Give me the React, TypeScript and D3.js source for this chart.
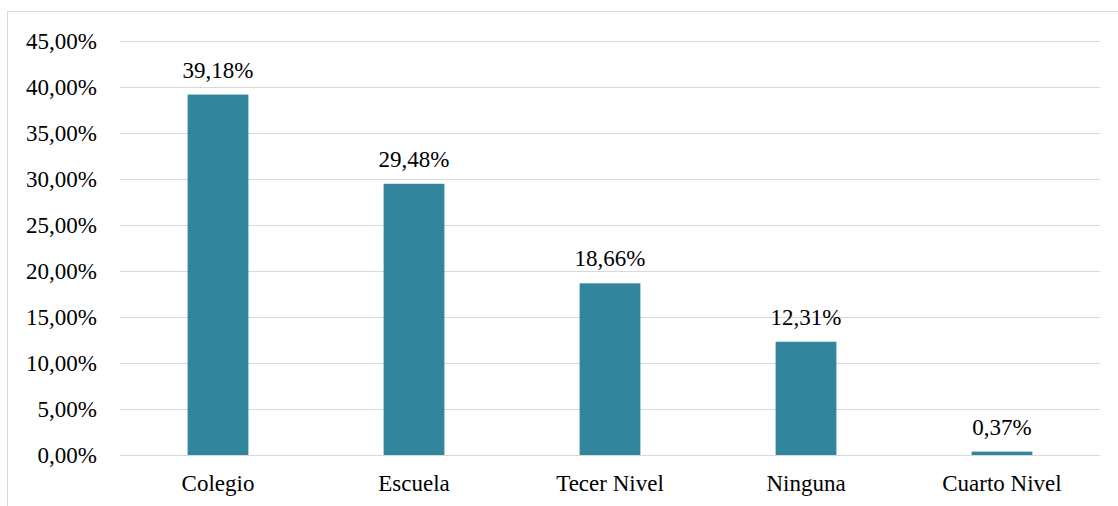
import { useEffect, useRef } from "react";
import * as d3 from "d3";

const categories = ["Colegio", "Escuela", "Tecer Nivel", "Ninguna", "Cuarto Nivel"];
const values = [39.18, 29.48, 18.66, 12.31, 0.37];
const yTicks = [0, 5, 10, 15, 20, 25, 30, 35, 40, 45];

const W = 1118, H = 506;
const m = { l: 120, r: 18, t: 41, b: 51 };
const FONT = "'Liberation Serif', 'Times New Roman', serif";

const fmt = (v: number) => v.toFixed(2).replace(".", ",") + "%";

export default function App() {
  const ref = useRef<SVGSVGElement | null>(null);

  useEffect(() => {
    const svg = d3.select(ref.current);
    svg.selectAll("*").remove();

    const x = d3.scaleBand<string>()
      .domain(categories)
      .range([m.l, W - m.r])
      .paddingInner(0.69)
      .paddingOuter(0.345);

    const y = d3.scaleLinear().domain([0, 45]).range([H - m.b, m.t]);

    svg.append("rect")
      .attr("x", 7.5).attr("y", 11.5)
      .attr("width", W + 20).attr("height", H + 20)
      .attr("fill", "white")
      .attr("stroke", "#d9d9d9")
      .attr("stroke-width", 1);

    const grid = svg.append("g");
    grid.selectAll("line")
      .data(yTicks)
      .enter()
      .append("line")
      .attr("x1", m.l).attr("x2", W - m.r)
      .attr("y1", d => Math.round(y(d)) + 0.5)
      .attr("y2", d => Math.round(y(d)) + 0.5)
      .attr("stroke", "#d9d9d9")
      .attr("stroke-width", 1);

    svg.append("g").selectAll("text")
      .data(yTicks)
      .enter()
      .append("text")
      .attr("x", 97)
      .attr("y", d => y(d))
      .attr("dy", "0.34em")
      .attr("text-anchor", "end")
      .attr("font-family", FONT)
      .attr("font-size", 23)
      .attr("fill", "#000")
      .text(d => fmt(d));

    svg.append("g").selectAll("rect")
      .data(values)
      .enter()
      .append("rect")
      .attr("x", (_, i) => x(categories[i])!)
      .attr("width", x.bandwidth())
      .attr("y", d => y(d))
      .attr("height", d => y(0) - y(d))
      .attr("fill", "#31859c");

    svg.append("g").selectAll("text")
      .data(values)
      .enter()
      .append("text")
      .attr("x", (_, i) => x(categories[i])! + x.bandwidth() / 2)
      .attr("y", d => y(d) - 17)
      .attr("text-anchor", "middle")
      .attr("font-family", FONT)
      .attr("font-size", 23)
      .attr("fill", "#000")
      .text(d => fmt(d));

    svg.append("g").selectAll("text")
      .data(categories)
      .enter()
      .append("text")
      .attr("x", d => x(d)! + x.bandwidth() / 2)
      .attr("y", 491)
      .attr("text-anchor", "middle")
      .attr("font-family", FONT)
      .attr("font-size", 23)
      .attr("fill", "#000")
      .text(d => d);
  }, []);

  return (
    <svg
      ref={ref}
      width={W}
      height={H}
      style={{ position: "absolute", left: 0, top: 0, display: "block" }}
    />
  );
}
